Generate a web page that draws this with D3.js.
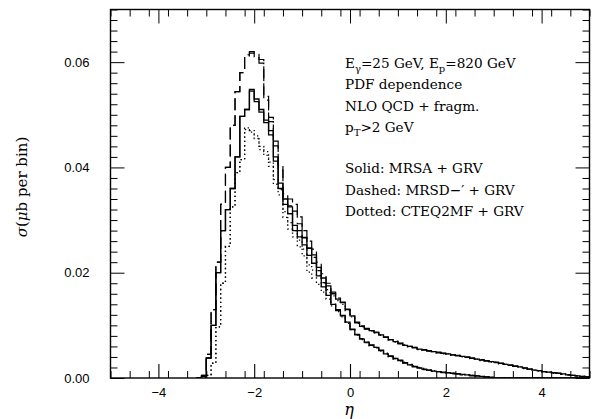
<!DOCTYPE html>
<html><head><meta charset="utf-8">
<script src="https://cdn.jsdelivr.net/npm/d3@7"></script>
<style>body{margin:0;background:#fff}</style>
</head><body>
<svg id="c" width="594" height="419"></svg>
<script>
// Histogram bins: lower edges from -3.2 to 4.9, width 0.1
const binStart = -3.2, binWidth = 0.1;
const xTicks = [-4, -2, 0, 2, 4];
const yTicks = [0.00, 0.02, 0.04, 0.06];
const annotation = ["PDF dependence", "NLO QCD + fragm."];
const legendLines = ["Solid: MRSA + GRV", "Dashed: MRSD\u2212\u2032 + GRV", "Dotted: CTEQ2MF + GRV"];

// MRSA + GRV (solid), upper-tail and lower-tail histograms
const solidA = [0,0.0003,0.0038,0.0100,0.0200,0.0280,0.0320,0.0360,0.0420,0.0497,0.0510,0.0548,0.0530,0.0510,0.0490,0.0470,0.0420,0.0370,0.0340,0.0325,0.0290,0.0280,0.0266,0.0247,0.0234,0.0210,0.0190,0.0175,0.0160,0.0150,0.0143,0.0130,
 0.0118,0.0105,0.0098,0.0094,0.0090,0.0087,0.0082,0.0078,0.0073,0.0069,0.0066,0.0062,0.0060,0.0058,0.0055,0.0053,0.0052,0.0050,0.0048,0.0047,0.0046,0.0044,0.0043,0.0041,0.0039,0.0038,0.0036,0.0034,0.0033,0.0031,0.0030,0.0028,0.0026,0.0024,0.0023,0.0021,0.0019,0.0017,0.0015,0.0014,0.0012,0.0011,0.0010,0.0009,0.0008,0.0006,0.0005,0.0004,0.0003,0.0002];
const solidB = [0,0.0003,0.0038,0.0100,0.0200,0.0280,0.0320,0.0360,0.0420,0.0497,0.0510,0.0545,0.0525,0.0505,0.0485,0.0462,0.0412,0.0360,0.0330,0.0312,0.0280,0.0268,0.0253,0.0233,0.0218,0.0194,0.0173,0.0157,0.0140,0.0128,0.0118,0.0106,
 0.0093,0.0082,0.0074,0.0068,0.0062,0.0058,0.0052,0.0046,0.0041,0.0037,0.0033,0.0029,0.0025,0.0022,0.0019,0.0017,0.0015,0.0013,0.0012,0.0011,0.0010,0.0009,0.0008,0.0007,0.0006,0.0005,0.0004,0.0003,0.0002,0.0001,0,0,0,0,0,0,0,0,0,0,0,0,0,0,0,0,0,0,0,0];
// MRSD-' + GRV (dashed)
const dashedA = [0,0.0005,0.0045,0.0130,0.0220,0.0330,0.0400,0.0480,0.0544,0.0580,0.0614,0.0620,0.0615,0.0605,0.0535,0.0495,0.0450,0.0405,0.0350,0.0340,0.0330,0.0306,0.0280,0.0260,0.0245,0.0220,0.0198,0.0180,0.0163,0.0152,0.0144,0.0131,
 0.0117,0.0106,0.0099,0.0093,0.0090,0.0086,0.0082,0.0077,0.0073,0.0070,0.0065,0.0063,0.0060,0.0057,0.0055,0.0054,0.0051,0.0050,0.0049,0.0047,0.0045,0.0044,0.0042,0.0041,0.0040,0.0037,0.0036,0.0035,0.0032,0.0031,0.0029,0.0028,0.0027,0.0025,0.0022,0.0021,0.0019,0.0017,0.0016,0.0014,0.0012,0.0011,0.0010,0.0009,0.0007,0.0006,0.0005,0.0004,0.0003,0.0002];
const dashedB = [0,0.0005,0.0045,0.0130,0.0220,0.0330,0.0400,0.0480,0.0544,0.0580,0.0612,0.0617,0.0610,0.0598,0.0528,0.0487,0.0441,0.0395,0.0340,0.0327,0.0317,0.0293,0.0267,0.0246,0.0229,0.0204,0.0181,0.0162,0.0143,0.0130,0.0119,0.0107,
 0.0092,0.0083,0.0075,0.0067,0.0063,0.0057,0.0053,0.0045,0.0042,0.0036,0.0034,0.0028,0.0026,0.0021,0.0020,0.0016,0.0015,0.0013,0.0012,0.0010,0.0010,0.0008,0.0008,0.0006,0.0006,0.0004,0.0004,0.0002,0.0002,0.0001,0,0,0,0,0,0,0,0,0,0,0,0,0,0,0,0,0,0,0,0];
// CTEQ2MF + GRV (dotted)
const dottedA = [0,0.0001,0.0005,0.0028,0.0097,0.0180,0.0250,0.0325,0.0390,0.0415,0.0475,0.0470,0.0460,0.0440,0.0430,0.0410,0.0377,0.0358,0.0316,0.0295,0.0280,0.0262,0.0245,0.0215,0.0205,0.0195,0.0180,0.0168,0.0156,0.0147,0.0140,0.0128,
 0.0116,0.0104,0.0097,0.0093,0.0089,0.0086,0.0081,0.0077,0.0072,0.0068,0.0066,0.0062,0.0059,0.0058,0.0054,0.0053,0.0051,0.0050,0.0048,0.0046,0.0046,0.0043,0.0043,0.0040,0.0039,0.0037,0.0036,0.0033,0.0033,0.0030,0.0030,0.0027,0.0026,0.0024,0.0022,0.0021,0.0018,0.0017,0.0015,0.0013,0.0012,0.0011,0.0009,0.0009,0.0008,0.0006,0.0005,0.0004,0.0003,0.0002];
const dottedB = [0,0.0001,0.0005,0.0028,0.0097,0.0180,0.0250,0.0325,0.0390,0.0415,0.0472,0.0467,0.0455,0.0434,0.0423,0.0402,0.0368,0.0348,0.0305,0.0283,0.0268,0.0249,0.0232,0.0201,0.0190,0.0178,0.0163,0.0150,0.0137,0.0126,0.0116,0.0104,
 0.0092,0.0081,0.0073,0.0068,0.0061,0.0058,0.0051,0.0047,0.0040,0.0037,0.0032,0.0030,0.0025,0.0023,0.0019,0.0018,0.0015,0.0014,0.0012,0.0011,0.0010,0.0009,0.0008,0.0007,0.0006,0.0005,0.0004,0.0003,0.0002,0.0001,0,0,0,0,0,0,0,0,0,0,0,0,0,0,0,0,0,0,0,0];

const series = [
  {vals: dottedA, style: "dotted"}, {vals: dottedB, style: "dotted"},
  {vals: dashedA, style: "dashed"}, {vals: dashedB, style: "dashed"},
  {vals: solidA, style: "solid"}, {vals: solidB, style: "solid"}
];

const svg = d3.select("#c");
const L = 110.5, R = 589.5, T = 9.5, B = 378;
const x = d3.scaleLinear().domain([-5, 5]).range([L, R]);
const y = d3.scaleLinear().domain([0, 0.07]).range([B, T]);

const plot = svg.append("g");
const clipId = "clip";
svg.append("clipPath").attr("id", clipId).append("rect").attr("x", L).attr("y", T).attr("width", R - L).attr("height", B - T);

const styles = {
  solid: {w: 1.3, dash: null},
  dashed: {w: 1.2, dash: "12,5"},
  dotted: {w: 1.3, dash: "1.3,3"}
};
const line = d3.line().x(d => x(d[0])).y(d => y(d[1])).curve(d3.curveStepAfter);
series.forEach(s => {
  const pts = [[binStart, 0]];
  s.vals.forEach((v, i) => pts.push([binStart + i * binWidth, v]));
  pts.push([binStart + s.vals.length * binWidth, 0]);
  const st = styles[s.style];
  plot.append("path").attr("d", line(pts)).attr("fill", "none").attr("stroke", "#000")
    .attr("stroke-width", st.w).attr("stroke-dasharray", st.dash).attr("clip-path", `url(#${clipId})`);
});

// Frame
svg.append("rect").attr("x", L).attr("y", T).attr("width", R - L).attr("height", B - T)
  .attr("fill", "none").attr("stroke", "#000").attr("stroke-width", 1.4);

// Axes with ticks on all sides
const tickFont = "'Liberation Sans', Arial, sans-serif";
const xMinor = d3.range(-5, 5.001, 0.4).filter(t => Math.abs(t / 2 - Math.round(t / 2)) > 1e-6);
const yMinor = d3.range(0, 0.0701, 0.002).filter(t => Math.abs(t / 0.02 - Math.round(t / 0.02)) > 1e-6);

const axB = d3.axisBottom(x).tickValues(xTicks).tickSize(-14).tickFormat(d => d === 0 ? "0" : d3.format("d")(d).replace("-", "\u2212"));
const gB = svg.append("g").attr("transform", `translate(0,${B})`).call(axB);
gB.select(".domain").remove();
gB.selectAll("text").attr("dy", 0).attr("y", 19).style("font", `13px ${tickFont}`).attr("fill", "#000");
gB.selectAll("line").attr("stroke-width", 1.1);
const axBm = d3.axisBottom(x).tickValues(xMinor).tickSize(-7).tickFormat("");
svg.append("g").attr("transform", `translate(0,${B})`).call(axBm).select(".domain").remove();

const axT = d3.axisTop(x).tickValues(xTicks).tickSize(-14).tickFormat("");
svg.append("g").attr("transform", `translate(0,${T})`).call(axT).select(".domain").remove();
const axTm = d3.axisTop(x).tickValues(xMinor).tickSize(-7).tickFormat("");
svg.append("g").attr("transform", `translate(0,${T})`).call(axTm).select(".domain").remove();

const axL = d3.axisLeft(y).tickValues(yTicks).tickSize(-14).tickFormat(d3.format(".2f"));
const gL = svg.append("g").attr("transform", `translate(${L},0)`).call(axL);
gL.select(".domain").remove();
gL.selectAll("text").attr("x", -21).style("font", `13px ${tickFont}`).attr("fill", "#000");
const axLm = d3.axisLeft(y).tickValues(yMinor).tickSize(-7).tickFormat("");
svg.append("g").attr("transform", `translate(${L},0)`).call(axLm).select(".domain").remove();

const axR = d3.axisRight(y).tickValues(yTicks).tickSize(-14).tickFormat("");
svg.append("g").attr("transform", `translate(${R},0)`).call(axR).select(".domain").remove();
const axRm = d3.axisRight(y).tickValues(yMinor).tickSize(-7).tickFormat("");
svg.append("g").attr("transform", `translate(${R},0)`).call(axRm).select(".domain").remove();
svg.selectAll(".tick line").attr("stroke", "#000");

// Axis titles
const serif = "'DejaVu Serif', 'Liberation Serif', serif";
svg.append("text").attr("x", 349).attr("y", 415).attr("text-anchor", "middle")
  .style("font", `italic 16px ${serif}`).text("\u03b7");
const yl = svg.append("text").attr("transform", `translate(27,187) rotate(-90)`).attr("text-anchor", "middle")
  .style("font", `15px ${serif}`);
yl.append("tspan").style("font-style", "italic").text("\u03c3");
yl.append("tspan").text("(");
yl.append("tspan").style("font-style", "italic").text("\u03bc");
yl.append("tspan").text("b per bin)");

// Annotation
const ann = svg.append("g").style("font", `13.6px ${serif}`);
const tx = 345;
const t1 = ann.append("text").attr("x", tx).attr("y", 68);
t1.append("tspan").text("E");
t1.append("tspan").attr("dy", 4).style("font-size", "10px").text("\u03b3");
t1.append("tspan").attr("dy", -4).text("=25 GeV, E");
t1.append("tspan").attr("dy", 4).style("font-size", "10px").text("p");
t1.append("tspan").attr("dy", -4).text("=820 GeV");
ann.append("text").attr("x", tx).attr("y", 89).text(annotation[0]);
ann.append("text").attr("x", tx).attr("y", 111).text(annotation[1]);
const t4 = ann.append("text").attr("x", tx).attr("y", 132);
t4.append("tspan").text("p");
t4.append("tspan").attr("dy", 4).style("font-size", "10px").text("T");
t4.append("tspan").attr("dy", -4).text(">2 GeV");
legendLines.forEach((s, i) => ann.append("text").attr("x", tx).attr("y", 173 + 21.5 * i).text(s));
</script>
</body></html>
